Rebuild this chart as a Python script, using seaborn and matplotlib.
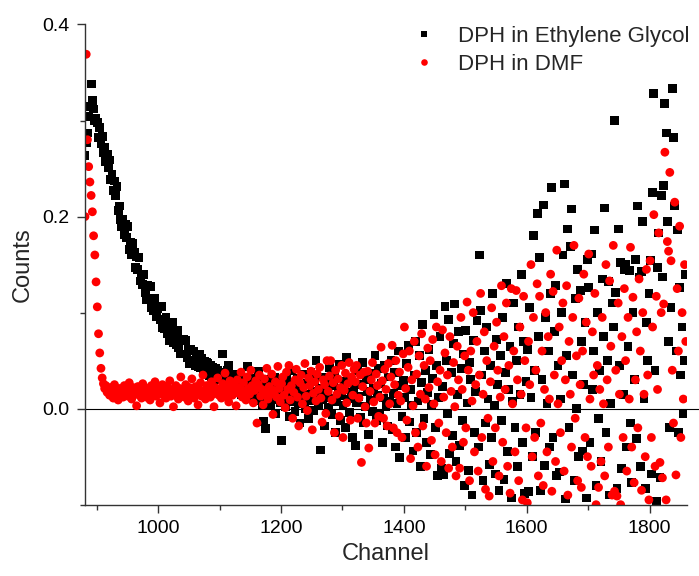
import numpy as np
import pandas as pd
import matplotlib
matplotlib.use("Agg")
import matplotlib.pyplot as plt
from matplotlib.ticker import MultipleLocator, FormatStrFormatter
import seaborn as sns

# counts in thousandths, one value every 2 channels starting at channel 881
black_milli = [
    264, 277, 287, 304, 315, 338, 321, 312, 300, 302,
    298, 282, 293, 276, 283, 267, 272, 257, 265, 251,
    259, 239, 244, 227, 237, 222, 231, 206, 211, 197,
    190, 197, 181, 192, 178, 190, 166, 173, 160, 172,
    163, 147, 158, 145, 157, 133, 140, 129, 140, 121,
    114, 128, 115, 127, 105, 113, 102, 115, 96, 104,
    106, 93, 106, 84, 92, 83, 95, 78, 86, 71,
    76, 90, 69, 77, 67, 81, 64, 72, 57, 72,
    72, 57, 71, 53, 62, 47, 62, 50, 60, 47,
    45, 57, 44, 56, 43, 52, 38, 49, 40, 48,
    47, 34, 45, 33, 43, 31, 42, 32, 40, 30,
    38, 31, 57, 29, 35, 27, 40, 45, 33, 25,
    31, 22, 28, 36, 18, 26, 33, 15, 29, 24,
    20, 30, 44, 17, 27, 12, 32, 23, 8, 26,
    19, 39, 14, 27, 4, -13, 22, -21, 10, 30,
    16, 3, 25, 9, 33, -5, 18, 12, 27, 6,
    -33, 14, 22, 2, 30, 10, -8, 19, 40, 7,
    24, -3, 13, 31, 5, -15, 20, 11, 36, 0,
    15, 26, -10, 8, 38, 18, -2, 29, 50, 12,
    4, 21, -43, 9, 33, -18, 16, 27, 1, 43,
    11, -6, 24, 35, -25, 7, 19, 46, -12, 14,
    3, 28, -20, 53, 10, -4, 32, 17, -30, 22,
    -38, 6, 40, 13, -9, 25, 48, -15, 2, 30,
    18, -27, 9, 37, -3, 21, 55, -12, 14, 42,
    -6, 26, -35, 11, 45, 2, -18, 33, 8, 50,
    -22, 16, 38, -40, 5, 60, -51, 24, -8, 29,
    12, -30, 47, 66, -14, 20, 3, -44, 35, 70,
    -25, 8, 55, -60, 27, 88, -10, 40, -35, 17,
    62, -48, 4, 31, 98, -20, 45, -70, 12, 75,
    -62, 23, -69, 106, 50, -5, 93, -47, 38, -28,
    68, 109, -55, 15, 80, -38, 42, -12, 57, -80,
    81, 6, -64, 48, 30, -90, 71, -25, 18, 92,
    -40, 160, 102, 35, -75, 60, -15, 85, 10, -58,
    45, -30, 120, 3, -68, 72, 25, -85, 55, -12,
    95, -74, 38, 130, -45, 20, 65, -93, 8, 110,
    -20, 50, -60, 85, 15, 140, -35, 70, -88, 28,
    62, -86, 105, 12, -50, 180, 40, -25, 203, 75,
    157, -85, 30, 212, -59, 95, 5, 60, -40, 120,
    230, -30, 80, 128, -70, 45, -66, 10, 100, 160,
    234, -94, 55, 187, -20, 169, 208, 35, -75, 115,
    0, 145, -50, 123, 70, -44, 25, 90, -93, 155,
    126, -35, 161, 20, 60, 186, -80, 100, -10, 40,
    -55, 135, 75, 209, -25, 50, 132, -90, 5, 110,
    85, 300, 121, -83, 187, 45, 152, -62, 15, 145,
    150, -40, 65, 144, -15, -77, 100, 30, 155, -31,
    211, 137, -60, 143, 195, 10, -83, 90, 50, 120,
    154, -68, 225, 328, 40, -97, 147, 183, -72, 222,
    137, 232, 318, 287, 195, 70, -20, 105, 333, 282,
    211, 60, 186, -25, 126, 35, 85, -5, 50, 140,
]

red_milli = [
    200, 369, 280, 252, 236, 222, 205, 180, 160, 132,
    106, 78, 58, 42, 32, 26, 21, 24, 17, 20,
    14, 22, 18, 11, 25, 16, 19, 9, 21, 15,
    18, 12, 24, 16, 20, 13, 27, 17, 10, 22,
    15, 19, 3, 23, 14, 18, 11, 26, 16, 20,
    12, 21, 17, 9, 24, 15, 19, 28, 13, 18,
    22, 6, 16, 25, 14, 19, 11, 23, 17, 29,
    13, 20, 2, 18, 24, 15, 10, 21, 33, 16,
    19, 12, 25, 17, 8, 22, 14, 31, 18, 11,
    23, 16, 4, 20, 27, 13, 35, 18, 10, 24,
    17, 21, 12, 28, 15, 2, 22, 19, 32, 14,
    20, 11, 26, 16, 37, 13, 23, 7, 29, 18,
    14, 25, 19, 3, 30, 16, 22, 38, 12, 27,
    18, 9, 33, 21, 15, 40, 24, 6, 19, 29,
    -15, 25, 35, 13, 20, 4, 31, 17, 42, 10,
    23, 15, 36, -6, 19, 28, 12, 44, 21, 7,
    26, 33, 14, 1, 38, 20, 45, 9, 24, -10,
    17, 30, 41, 12, -18, 27, 35, 5, 22, 47,
    13, -2, 32, 24, 39, -22, 16, 28, 8, 36,
    20, 43, 11, -14, 30, 25, -5, 50, 18, 34,
    50, 9, 27, -25, 40, 15, 31, -8, 22, 45,
    -30, 19, 37, 6, 26, 48, -12, 33, 14, 41,
    28, 45, -10, 11, 35, -56, 23, 38, 2, -15,
    39, -41, 18, 30, 48, 7, -15, 36, 24, -8,
    12, 64, 29, -10, 41, 20, -18, 47, 5, 33,
    66, -20, 25, 50, -25, 14, 38, 8, -30, 57,
    85, 21, -12, 43, 60, -52, 30, 3, 70, -25,
    36, -40, 55, 15, 78, -18, 45, 10, -60, 63,
    22, 50, -33, 72, 5, -48, 85, 28, -15, 40,
    -55, 82, 12, 58, -25, 35, -62, 75, 18, -40,
    48, 2, -70, 65, 30, -62, 95, 20, -35, 55,
    -20, 111, 40, -75, 60, 8, 100, -45, 25, 70,
    -65, 35, 120, -30, 15, 80, -84, 50, -10, -91,
    28, 105, -55, 65, -20, 90, 40, -70, 12, 128,
    -35, 75, 20, 110, -60, 45, -88, 125, 5, 60,
    -45, 123, 30, -75, 85, 15, -95, 117, 50, -20,
    -98, 70, 25, 150, -50, 95, -30, 40, 130, -70,
    117, -15, 60, -80, 20, 100, -45, 75, 10, 140,
    -86, 122, 35, -55, 165, 5, 85, -25, 50, 110,
    -65, 30, 128, -90, 70, 15, -40, 95, 170, -10,
    55, -75, 115, 25, -82, 60, 140, -30, 90, -50,
    161, 10, -60, 80, 35, 120, -100, 45, -82, 20,
    -55, 95, 5, -70, 150, 30, -40, 133, 65, -90,
    170, -86, 40, -91, 110, 15, -100, 75, -30, 125,
    50, -65, 95, 10, 168, -40, 116, -77, 30, 80,
    -20, 135, 60, -85, 100, 15, -50, 145, 35, -95,
    154, -30, 85, 202, -60, 117, 20, 183, -56, 100,
    -72, 109, 267, -95, 174, 164, 246, 154, 40, -15,
    215, -69, 125, 60, 190, -30, 100, 10, 150, 70,
]

labels = ["DPH in Ethylene Glycol", "DPH in DMF"]
first_channel = 881
channel_step = 2

frames = []
for label, vals in zip(labels, [black_milli, red_milli]):
    ch = first_channel + channel_step * np.arange(len(vals))
    frames.append(pd.DataFrame({"Channel": ch,
                                "Counts": np.array(vals) / 1000.0,
                                "Sample": label}))
df = pd.concat(frames, ignore_index=True)

sns.set_style("ticks")
plt.rcParams["font.family"] = ["Liberation Sans", "DejaVu Sans"]

fig = plt.figure(figsize=(6.99, 5.76), dpi=100)
ax = fig.add_axes([85 / 699, 1 - 504.7 / 576, 602 / 699, 480.2 / 576])

sns.scatterplot(data=df, x="Channel", y="Counts", hue="Sample", style="Sample",
                palette={labels[0]: "#000000", labels[1]: "#ff0000"},
                markers={labels[0]: "s", labels[1]: "o"},
                s=40, linewidth=0, ax=ax)

ax.axhline(0, xmin=0, xmax=(699 - 85) / 602, color="black", lw=0.8,
           clip_on=False, zorder=0)

ax.set_xlim(881, 1861)
ax.set_ylim(-0.1, 0.4)
ax.set_xticks([1000, 1200, 1400, 1600, 1800])
ax.xaxis.set_minor_locator(MultipleLocator(100))
ax.yaxis.set_major_locator(MultipleLocator(0.2))
ax.yaxis.set_minor_locator(MultipleLocator(0.1))
ax.yaxis.set_major_formatter(FormatStrFormatter("%.1f"))

for s in ["top", "right"]:
    ax.spines[s].set_visible(False)
for s in ["left", "bottom"]:
    ax.spines[s].set_color("#333333")
    ax.spines[s].set_linewidth(1.0)

ax.tick_params(which="major", direction="out", length=6, width=1,
               color="#333333", labelsize=14, labelcolor="black", pad=5)
ax.tick_params(which="minor", direction="out", length=3.5, width=1,
               color="#333333")

ax.set_xlabel("Channel", fontsize=17, labelpad=4)
ax.set_ylabel("Counts", fontsize=17, labelpad=6)

handles, leg_labels = ax.get_legend_handles_labels()
ax.legend(handles, leg_labels, loc="upper left", bbox_to_anchor=(0.527, 1.02),
          frameon=False, fontsize=16, borderpad=0, handlelength=1.0,
          handletextpad=1.0, labelspacing=0.3, markerscale=0.75)

fig.savefig("out.png", dpi=100)
